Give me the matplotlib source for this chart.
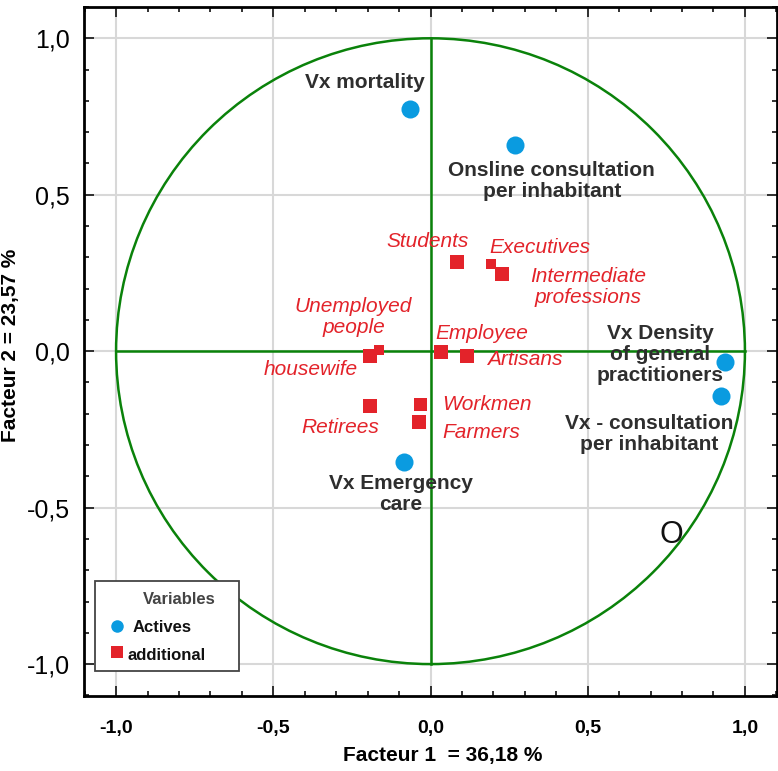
import matplotlib
matplotlib.use("Agg")
import matplotlib.pyplot as plt
from matplotlib.patches import Circle, Rectangle
import numpy as np

plt.rcParams['font.family'] = ['Liberation Sans', 'DejaVu Sans']

# Active variables (blue dots)
active_names = ["Vx mortality", "Onsline consultation per inhabitant",
                "Vx Density of general practitioners",
                "Vx - consultation per inhabitant", "Vx Emergency care"]
active_x = [-0.064, 0.269, 0.937, 0.924, -0.084]
active_y = [0.773, 0.658, -0.034, -0.143, -0.354]

# Additional variables (red squares)
add_names = ["Students", "Executives", "Intermediate professions", "Employee",
             "Artisans", "housewife", "Unemployed people", "Retirees",
             "Workmen", "Farmers"]
add_x = [0.084, 0.193, 0.226, 0.033, 0.116, -0.194, -0.165, -0.192, -0.032, -0.038]
add_y = [0.285, 0.280, 0.246, -0.002, -0.016, -0.015, 0.003, -0.176, -0.168, -0.227]

ticks = [-1.0, -0.5, 0.0, 0.5, 1.0]
tick_labels = ["-1,0", "-0,5", "0,0", "0,5", "1,0"]
xlabel = "Facteur 1  = 36,18 %"
ylabel = "Facteur 2 = 23,57 %"
legend_title = "Variables"
legend_labels = ["Actives", "additional"]

# styles
BLUE = "#0a9be0"
RED = "#e3232a"
GREEN = "#0a820a"
DARK = "#2e2e2e"
add_sizes = [14, 10, 14, 14, 14, 14, 10, 14, 13, 14]

# label placement (text centers, data units) - layout
active_lab = [("Vx mortality", -0.21, 0.86),
              ("Onsline consultation\nper inhabitant", 0.386, 0.543),
              ("Vx Density\nof general\npractitioners", 0.731, -0.012),
              ("Vx - consultation\nper inhabitant", 0.694, -0.265),
              ("Vx Emergency\ncare", -0.095, -0.455)]
add_lab = [("Students", -0.01, 0.351),
           ("Executives", 0.347, 0.332),
           ("Intermediate\nprofessions", 0.502, 0.204),
           ("Employee", 0.164, 0.058),
           ("Artisans", 0.299, -0.026),
           ("housewife", -0.38, -0.058),
           ("Unemployed\npeople", -0.245, 0.109),
           ("Retirees", -0.288, -0.243),
           ("Workmen", 0.178, -0.169),
           ("Farmers", 0.162, -0.259)]

W, H = 778, 771
fig = plt.figure(figsize=(W/100, H/100), dpi=100)
ax = fig.add_axes([84/W, 1-696/H, 693/W, 689/H])
ax.set_xlim(-1.102, 1.102)
ax.set_ylim(-1.102, 1.099)

# grid
for t in ticks:
    ax.axvline(t, color="#d8d8d8", lw=1.5, zorder=0)
    ax.axhline(t, color="#d8d8d8", lw=1.5, zorder=0)

# unit circle and axes lines
ax.add_patch(Circle((0, 0), 1.0, fill=False, ec=GREEN, lw=1.8, zorder=1))
ax.plot([-1, 1], [0, 0], color=GREEN, lw=1.8, zorder=1)
ax.plot([0, 0], [-1, 1], color=GREEN, lw=1.8, zorder=1)

ax.scatter(active_x, active_y, s=13**2, color=BLUE, marker="o", lw=0, zorder=3)
for xi, yi, sz in zip(add_x, add_y, add_sizes):
    ax.plot([xi], [yi], marker="s", ms=sz*0.72, color=RED, mew=0, ls="none", zorder=3)

for txt, tx, ty in active_lab:
    ax.text(tx, ty, txt, ha="center", va="center", fontsize=15, fontweight="bold",
            color=DARK, linespacing=1.13, zorder=4)
for txt, tx, ty in add_lab:
    ax.text(tx, ty, txt, ha="center", va="center", fontsize=15, style="italic",
            color=RED, linespacing=1.13, zorder=4)

ax.text(0.766, -0.588, "O", ha="center", va="center", fontsize=22, color="#111111")

# ticks
ax.set_xticks(ticks)
ax.set_yticks(ticks)
ax.set_xticklabels(tick_labels, fontsize=14, fontweight="bold")
ax.set_yticklabels(tick_labels, fontsize=18)
ax.set_xticks(np.arange(-1.1, 1.11, 0.1), minor=True)
ax.set_yticks(np.arange(-1.1, 1.11, 0.1), minor=True)
ax.tick_params(which="both", direction="in", top=True, right=True, width=1.3, color="#222222")
ax.tick_params(which="major", length=7)
ax.tick_params(which="minor", length=3.5)
ax.tick_params(axis="x", pad=17)
ax.tick_params(axis="y", pad=10)
for sp in ax.spines.values():
    sp.set_linewidth(2)

ax.set_xlabel(xlabel, fontsize=15, fontweight="bold", labelpad=7)
ax.set_ylabel(ylabel, fontsize=15, fontweight="bold", labelpad=5)
ax.xaxis.label.set_x((443 - 84) / 693)
ax.yaxis.label.set_y((696 - 345) / 689)

# legend drawn manually (figure pixel layout)
def P(px, py):
    return (px / W, 1 - py / H)

tf = fig.transFigure
x0, y0 = P(95, 671)
fig.patches.append(Rectangle((x0, y0), 144 / W, 90 / H, transform=tf, fill=True,
                             fc="white", ec="#444444", lw=1.3, zorder=10))
fig.text(*P(179, 600), legend_title, ha="center", va="center", fontsize=12,
         fontweight="bold", color="#444444", zorder=11)
fig.lines.append(plt.Line2D([P(117, 0)[0]], [P(0, 626)[1]], marker="o", ms=9, mew=0,
                            color=BLUE, transform=tf, zorder=11))
fig.lines.append(plt.Line2D([P(117, 0)[0]], [P(0, 652)[1]], marker="s", ms=8, mew=0,
                            color=RED, transform=tf, zorder=11))
fig.text(*P(133, 628), legend_labels[0], ha="left", va="center", fontsize=12,
         fontweight="bold", color="#111111", zorder=11)
fig.text(*P(128, 655), legend_labels[1], ha="left", va="center", fontsize=12,
         fontweight="bold", color="#111111", zorder=11)

fig.savefig("out.png", dpi=100)
